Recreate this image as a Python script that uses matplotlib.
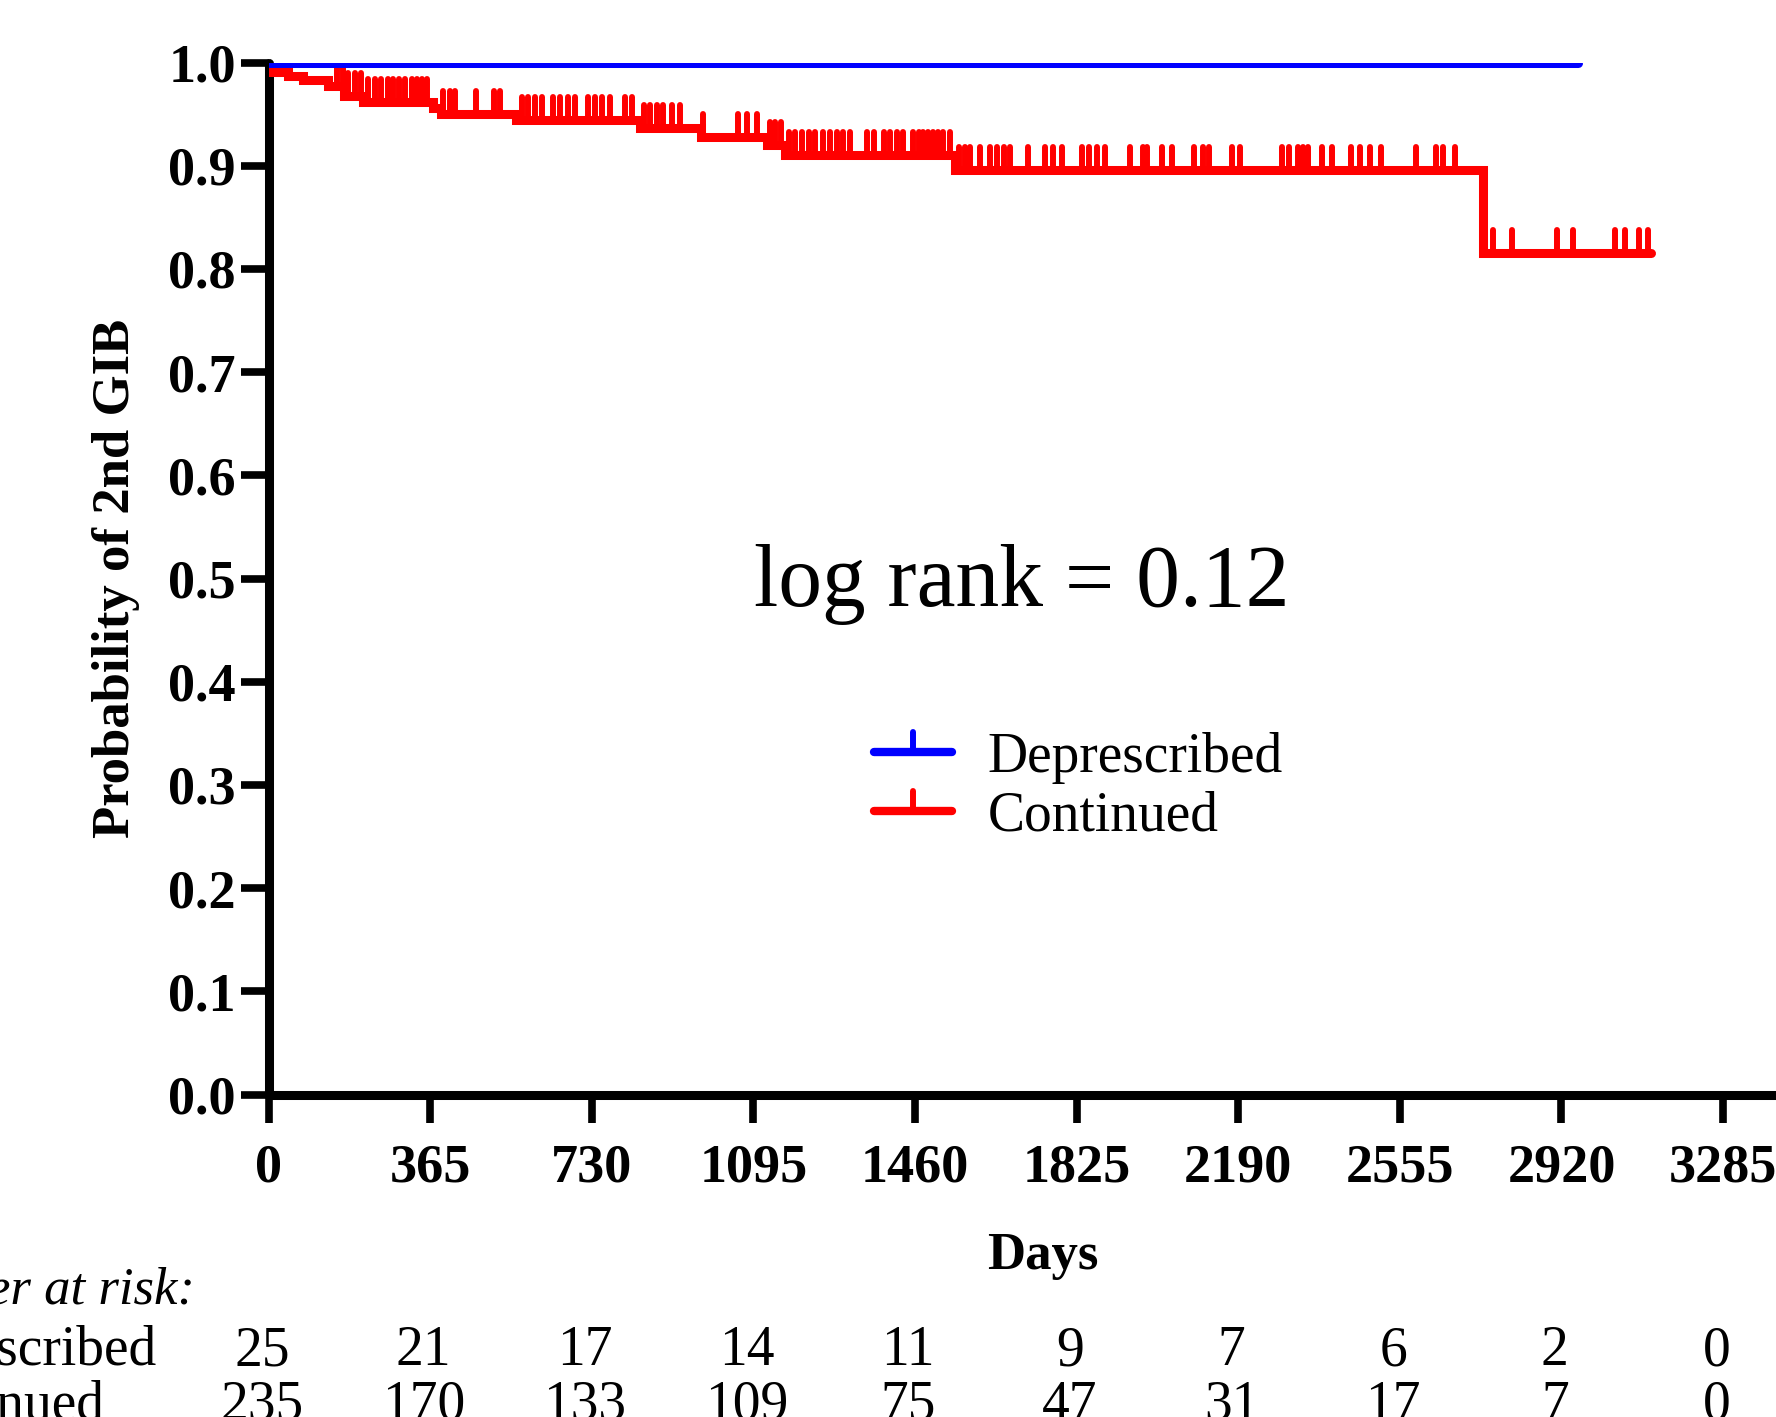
import numpy as np
import matplotlib.pyplot as plt
from matplotlib.lines import Line2D
from matplotlib.markers import MarkerStyle
from matplotlib.path import Path
from matplotlib.transforms import blended_transform_factory

plt.rcParams['font.family'] = ['Liberation Serif', 'DejaVu Serif']

# Kaplan-Meier steps (days, probability)
cont_times = [0, 1, 43, 77, 134, 171, 213, 371, 390, 559, 840, 977, 1125, 1167, 1550, 2742, 3121]
cont_surv = [1.0, 0.9911, 0.9867, 0.9826, 0.977, 0.9673, 0.9622, 0.956, 0.9503, 0.9445,
             0.9364, 0.9278, 0.9196, 0.9106, 0.896, 0.815, 0.815]
cont_censored = [154, 169, 180, 195, 210, 225, 241, 254, 269, 282, 295, 308, 323, 335, 346, 357,
                 395, 410, 421, 468, 510, 523, 572, 587, 602, 617, 643, 658, 677, 692, 722,
                 737, 753, 771, 805, 820, 847, 862, 877, 892, 911, 929, 982, 1061, 1080, 1103,
                 1133, 1144, 1157, 1175, 1189, 1204, 1221, 1234, 1253, 1268, 1283, 1298, 1313,
                 1351, 1368, 1389, 1404, 1419, 1432, 1456, 1468, 1479, 1490, 1501, 1513, 1524,
                 1539, 1560, 1572, 1584, 1607, 1630, 1645, 1660, 1675, 1716, 1754, 1772, 1793,
                 1837, 1854, 1870, 1889, 1946, 1976, 1983, 2017, 2040, 2089, 2111, 2123, 2175,
                 2193, 2289, 2304, 2324, 2337, 2348, 2379, 2401, 2445, 2465, 2488, 2512, 2592,
                 2637, 2653, 2680, 2765, 2808, 2909, 2945, 3040, 3064, 3095, 3116]

depr_times = [0, 2957]
depr_surv = [1.0, 1.0]

xticks = [0, 365, 730, 1095, 1460, 1825, 2190, 2555, 2920, 3285]
yticks = [0.0, 0.1, 0.2, 0.3, 0.4, 0.5, 0.6, 0.7, 0.8, 0.9, 1.0]

risk_depr = [25, 21, 17, 14, 11, 9, 7, 6, 2, 0]
risk_cont = [235, 170, 133, 109, 75, 47, 31, 17, 7, 0]

W, H = 1776, 1417
fig = plt.figure(figsize=(W / 100, H / 100), dpi=100)
ax = fig.add_axes([268.5 / W, 1 - 1094.5 / H, 1514.4 / W, 1032 / H])

tick = MarkerStyle(Path([(0, 0), (0, 1)]), capstyle='round')

ax.step(cont_times, cont_surv, where='post', color='#ff0000', lw=6.5,
        solid_capstyle='round', solid_joinstyle='miter', zorder=3)
idx = np.searchsorted(cont_times, cont_censored, side='right') - 1
ax.plot(cont_censored, np.array(cont_surv)[idx], ls='none', marker=tick, ms=33,
        mew=4.3, color='#ff0000', zorder=3)
ax.step(depr_times, depr_surv, where='post', color='#0000ff', lw=6.5,
        solid_capstyle='round', zorder=4)

ax.set_xlim(0, 3420)
ax.set_ylim(0, 1)
ax.set_xticks(xticks)
ax.set_yticks(yticks)
ax.set_yticklabels([f'{v:.1f}' for v in yticks])
for s in ['top', 'right']:
    ax.spines[s].set_visible(False)
for s in ['left', 'bottom']:
    ax.spines[s].set_linewidth(6.5)
    ax.spines[s].set_capstyle('round')
ax.tick_params(axis='both', direction='out', length=20, width=5.5, labelsize=39)
ax.tick_params(axis='y', pad=3.5)
ax.tick_params(axis='x', pad=15)
for lab in ax.get_xticklabels() + ax.get_yticklabels():
    lab.set_fontweight('bold')

ax.set_ylabel('Probability of 2nd GIB', fontsize=38, fontweight='bold')
ax.yaxis.set_label_coords(-0.085, 0.5)
ax.set_xlabel('Days', fontsize=38, fontweight='bold')
ax.xaxis.set_label_coords(0.5114, -0.133)

ax.text(1702, 0.4734, 'log rank = 0.12', fontsize=63, ha='center', va='baseline')

handles = [Line2D([], [], color='#0000ff', lw=6, solid_capstyle='round', marker=tick,
                  ms=29, mew=4.3),
           Line2D([], [], color='#ff0000', lw=6, solid_capstyle='round', marker=tick,
                  ms=29, mew=4.3)]
ax.legend(handles, ['Deprescribed', 'Continued'], loc='center left',
          bbox_to_anchor=(874 / W, 1 - 787 / H), bbox_transform=fig.transFigure,
          frameon=False, fontsize=40, numpoints=1, handlelength=1.4,
          handletextpad=0.65, labelspacing=0.12, borderpad=0, borderaxespad=0)

# number at risk table
tr = blended_transform_factory(ax.transData, fig.transFigure)
fig.text(195 / W, 1 - 1303 / H, 'Number at risk:', fontsize=38, style='italic',
         ha='right', va='baseline')
fig.text(-139 / W, 1 - 1365 / H, 'Deprescribed', fontsize=40, ha='left', va='baseline')
fig.text(-126 / W, 1 - 1420 / H, 'Continued', fontsize=40, ha='left', va='baseline')
for d, a, b in zip(xticks, risk_depr, risk_cont):
    ax.text(d - 15, 1 - 1365 / H, str(a), fontsize=40, ha='center', va='baseline',
            transform=tr)
    ax.text(d - 15, 1 - 1420 / H, str(b), fontsize=40, ha='center', va='baseline',
            transform=tr)

fig.savefig('out.png', dpi=100)
